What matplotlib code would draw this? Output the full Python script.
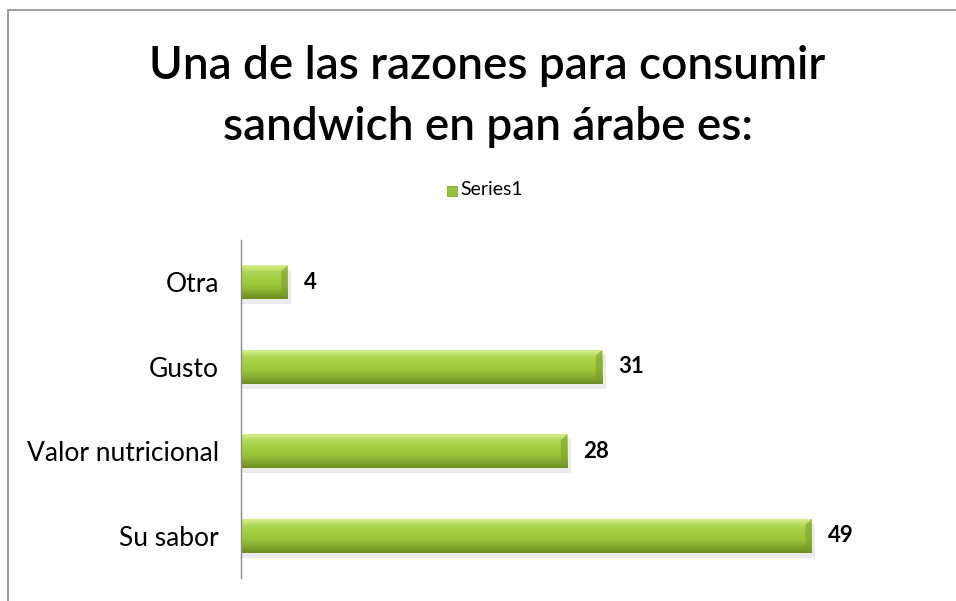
import matplotlib
import matplotlib.pyplot as plt
import numpy as np
from matplotlib.colors import LinearSegmentedColormap
from matplotlib.patches import Rectangle, Polygon

matplotlib.use("Agg")

categories = ["Su sabor", "Valor nutricional", "Gusto", "Otra"]
values = [49, 28, 31, 4]
series_name = "Series1"
title = "Una de las razones para consumir\nsandwich en pan árabe es:"

plt.rcParams["font.family"] = ["Lato", "DejaVu Sans"]

fig = plt.figure(figsize=(9.56, 6.01), dpi=100, facecolor="white")

# chart frame (only top and left visible in the reference)
fig.patches.append(
    Rectangle((8 / 956, -0.2), 1.2, 1.2 - 10 / 601, transform=fig.transFigure,
              fill=False, edgecolor="#8c8c8c", linewidth=1.2)
)

fig.text(0.510, 0.925, title, ha="center", va="top", fontsize=33,
         fontweight="semibold", linespacing=1.55, color="black")

# legend
fig.add_artist(Rectangle((447 / 956, 1 - 196 / 601), 10 / 956, 10 / 601,
                         transform=fig.transFigure, facecolor="#98c23c",
                         edgecolor="#7fa52c", linewidth=0.6))
fig.text(460 / 956, 1 - 190 / 601, series_name, ha="left", va="center",
         fontsize=14, color="black")

ax = fig.add_axes([241 / 956, 23 / 601, 699 / 956, 338 / 601])

green = LinearSegmentedColormap.from_list(
    "bar", ["#6c8c20", "#86ab30", "#9bc63b", "#a3cd43", "#aed553", "#d6ef8e"]
)
grad = np.linspace(0, 1, 64).reshape(-1, 1)
h = 0.4

for i, v in enumerate(values):
    y0, y1 = i - h / 2, i + h / 2
    # soft shadow under the bar
    ax.add_patch(Rectangle((0, y0 - 0.06), v + 0.3, h, facecolor="#000000",
                           alpha=0.08, edgecolor="none", zorder=1))
    ax.imshow(grad, extent=(0, v, y0, y1), aspect="auto", cmap=green,
              origin="lower", zorder=2, interpolation="bicubic")
    # bevelled right end
    e = 0.55
    ax.add_patch(Polygon([(v - e, y0 + 0.07), (v, y0), (v, y1), (v - e, y1 - 0.07)],
                         closed=True, facecolor="#7d9f2c", alpha=0.6,
                         edgecolor="none", zorder=3))
    ax.text(v + 1.4, i, str(v), ha="left", va="center", fontsize=16,
            fontweight="bold", color="black")

ax.set_xlim(0, 60)
ax.set_ylim(-0.5, len(categories) - 0.5)
ax.set_yticks(range(len(categories)))
ax.set_yticklabels(categories, fontsize=19)
ax.tick_params(axis="y", length=0, pad=16)
ax.set_xticks([])
for s in ["top", "right", "bottom"]:
    ax.spines[s].set_visible(False)
ax.spines["left"].set_color("#8c8c8c")
ax.spines["left"].set_linewidth(1.0)

plt.savefig("out.png", dpi=100, facecolor="white")
plt.close()
